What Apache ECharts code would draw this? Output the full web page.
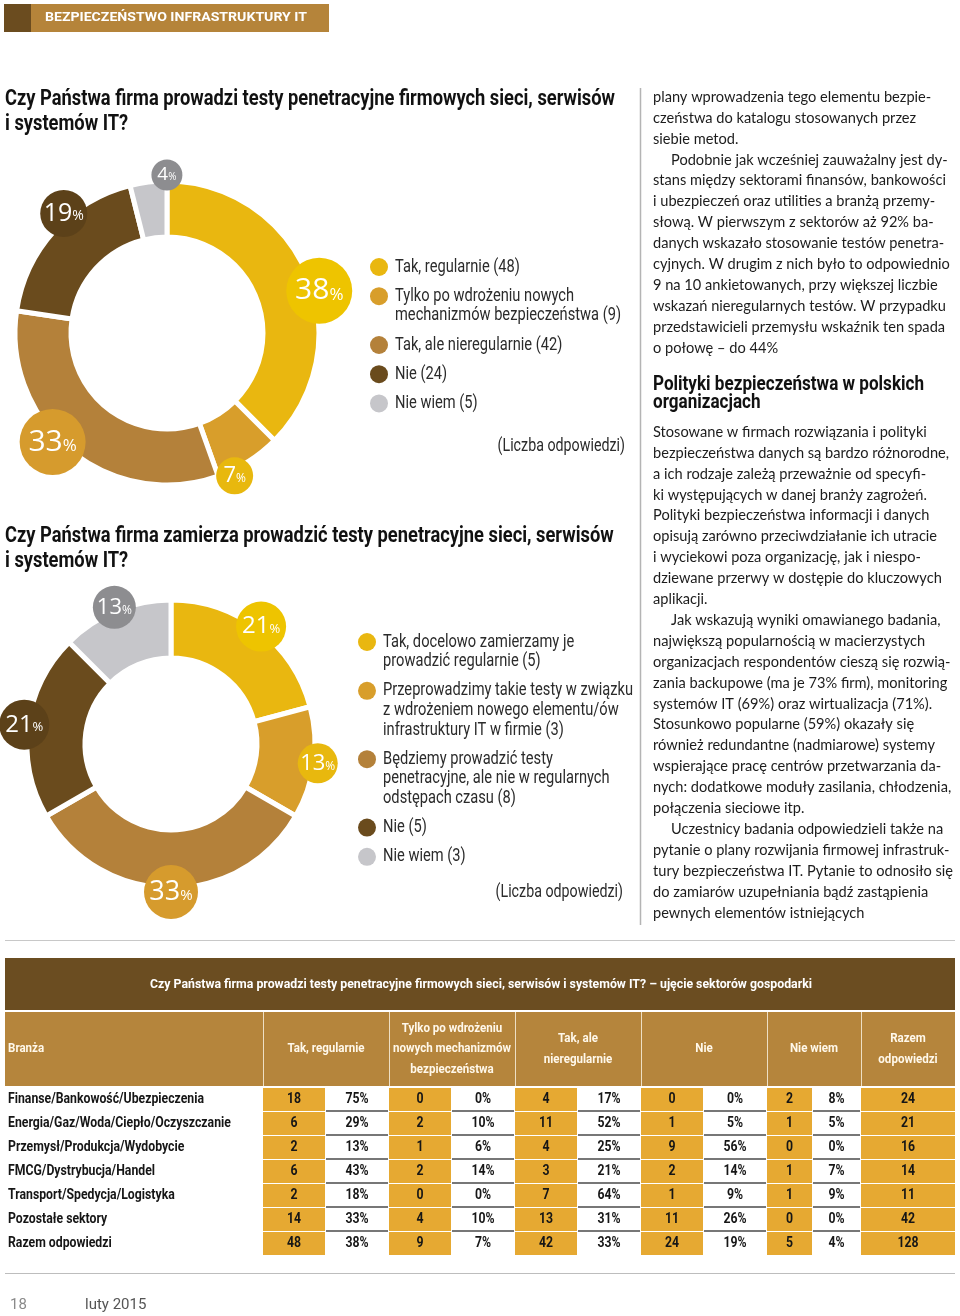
<!DOCTYPE html>
<html>
<head>
<meta charset="utf-8">
<script src="https://cdn.jsdelivr.net/npm/echarts@6/dist/echarts.min.js"></script>
<style>
  html, body { margin: 0; padding: 0; background: #fff; }
  #main { width: 960px; height: 1316px; }
</style>
</head>
<body>
<div id="main"></div>
<script>
// --- pytanie 1: czy firma prowadzi testy penetracyjne
const q1Names = ['Tak, regularnie', 'Tylko po wdrożeniu nowych\nmechanizmów bezpieczeństwa', 'Tak, ale nieregularnie', 'Nie', 'Nie wiem'];
const q1Counts = [48, 9, 42, 24, 5];
const q1Pct = [38, 7, 33, 19, 4];

// --- pytanie 2: czy firma zamierza prowadzić testy
const q2Names = ['Tak, docelowo zamierzamy je\nprowadzić regularnie', 'Przeprowadzimy takie testy w związku\nz wdrożeniem nowego elementu/ów\ninfrastruktury IT w firmie', 'Będziemy prowadzić testy\npenetracyjne, ale nie w regularnych\nodstępach czasu', 'Nie', 'Nie wiem'];
const q2Counts = [5, 3, 8, 5, 3];
const q2Pct = [21, 13, 33, 21, 13];

// --- tabela: ujęcie sektorów
const branches = ['Finanse/Bankowość/Ubezpieczenia', 'Energia/Gaz/Woda/Ciepło/Oczyszczanie', 'Przemysł/Produkcja/Wydobycie', 'FMCG/Dystrybucja/Handel', 'Transport/Spedycja/Logistyka', 'Pozostałe sektory', 'Razem odpowiedzi'];
const takRegularnie = [18, 6, 2, 6, 2, 14, 48];
const takRegularniePct = [75, 29, 13, 43, 18, 33, 38];
const tylkoPoWdrozeniu = [0, 2, 1, 2, 0, 4, 9];
const tylkoPoWdrozeniuPct = [0, 10, 6, 14, 0, 10, 7];
const takAleNieregularnie = [4, 11, 4, 3, 7, 13, 42];
const takAleNieregularniePct = [17, 52, 25, 21, 64, 31, 33];
const nie = [0, 1, 9, 2, 1, 11, 24];
const niePct = [0, 5, 56, 14, 9, 26, 19];
const nieWiem = [2, 1, 0, 1, 1, 0, 5];
const nieWiemPct = [8, 5, 0, 7, 9, 0, 4];
const razem = [24, 21, 16, 14, 11, 42, 128];
const tableHeaders = ['Branża', 'Tak, regularnie', 'Tylko po wdrożeniu\nnowych mechanizmów\nbezpieczeństwa', 'Tak, ale\nnieregularnie', 'Nie', 'Nie wiem', 'Razem\nodpowiedzi'];

// --- tekst kolumny
const column1 = [
  'plany wprowadzenia tego elementu bezpie-',
  'czeństwa do katalogu stosowanych przez',
  'siebie metod.',
  '\tPodobnie jak wcześniej zauważalny jest dy-',
  'stans między sektorami finansów, bankowości',
  'i ubezpieczeń oraz utilities a branżą przemy-',
  'słową. W pierwszym z sektorów aż 92% ba-',
  'danych wskazało stosowanie testów penetra-',
  'cyjnych. W drugim z nich było to odpowiednio',
  '9 na 10 ankietowanych, przy większej liczbie',
  'wskazań nieregularnych testów. W przypadku',
  'przedstawicieli przemysłu wskaźnik ten spada',
  'o połowę – do 44%'
];
const column2Heading = 'Polityki bezpieczeństwa w polskich\norganizacjach';
const column2 = [
  'Stosowane w firmach rozwiązania i polityki',
  'bezpieczeństwa danych są bardzo różnorodne,',
  'a ich rodzaje zależą przeważnie od specyfi-',
  'ki występujących w danej branży zagrożeń.',
  'Polityki bezpieczeństwa informacji i danych',
  'opisują zarówno przeciwdziałanie ich utracie',
  'i wyciekowi poza organizację, jak i niespo-',
  'dziewane przerwy w dostępie do kluczowych',
  'aplikacji.',
  '\tJak wskazują wyniki omawianego badania,',
  'największą popularnością w macierzystych',
  'organizacjach respondentów cieszą się rozwią-',
  'zania backupowe (ma je 73% firm), monitoring',
  'systemów IT (69%) oraz wirtualizacja (71%).',
  'Stosunkowo popularne (59%) okazały się',
  'również redundantne (nadmiarowe) systemy',
  'wspierające pracę centrów przetwarzania da-',
  'nych: dodatkowe moduły zasilania, chłodzenia,',
  'połączenia sieciowe itp.',
  '\tUczestnicy badania odpowiedzieli także na',
  'pytanie o plany rozwijania firmowej infrastruk-',
  'tury bezpieczeństwa IT. Pytanie to odnosiło się',
  'do zamiarów uzupełniania bądź zastąpienia',
  'pewnych elementów istniejących'
];
const title1 = 'Czy Państwa firma prowadzi testy penetracyjne firmowych sieci, serwisów\ni systemów IT?';
const title2 = 'Czy Państwa firma zamierza prowadzić testy penetracyjne sieci, serwisów\ni systemów IT?';
const tableTitle = 'Czy Państwa firma prowadzi testy penetracyjne firmowych sieci, serwisów i systemów IT? – ujęcie sektorów gospodarki';

// kolory
const sliceColors = ['#e9b710', '#d89e2b', '#b4813a', '#6a4b1d', '#c6c6ca'];
const bubbleColors = ['#eec400', '#e8b80e', '#d69b2d', '#5c4119', '#8d8d90'];
const THIN = '"Open Sans", "Noto Sans", sans-serif';

// brak fontów wąskich - zwężamy Roboto przez scaleX dopasowany do szerokości
const measureCtx = document.createElement('canvas').getContext('2d');
function measure (sample, weight, size, family) {
  measureCtx.font = weight + ' ' + size + 'px ' + family;
  return measureCtx.measureText(sample).width;
}
function fit (sample, weight, size, family, target) {
  return target / measure(sample, weight, size, family);
}
const titleScale = fit('Czy Państwa firma prowadzi testy penetracyjne firmowych sieci, serwisów', 'bold', 22, 'Roboto', 610);
const legendScale = Math.min(
  fit('mechanizmów bezpieczeństwa (9)', 'normal', 18, 'Roboto', 238),
  fit('Przeprowadzimy takie testy w związku', 'normal', 18, 'Roboto', 250)
);
const rowScale = fit('Finanse/Bankowość/Ubezpieczenia', 'bold', 15, 'Roboto', 196);
const headScale = fit('nowych mechanizmów', 'bold', 13.5, 'Roboto', 118);
const bandScale = fit(tableTitle, 'bold', 13.5, 'Roboto', 662);
const headingScale = fit('Polityki bezpieczeństwa w polskich', 'bold', 20, 'Roboto', 271);
const sectionScale = fit('BEZPIECZEŃSTWO INFRASTRUKTURY IT', 'bold', 13, 'Roboto', 262);
// kolumna tekstu: szerokość pierwszej linii, ale żadna linia nie wychodzi poza łam
const widestBody = Math.max.apply(null, column1.concat(column2).map(l =>
  measure(l.replace('\t', ''), 'normal', 15, 'Lato') + (l.charAt(0) === '\t' ? 18 : 0)));
const bodyScale = Math.min(fit('plany wprowadzenia tego elementu bezpie-', 'normal', 15, 'Lato', 289), 300 / widestBody);

const chart = echarts.init(document.getElementById('main'));

function donut (center, radius, names, counts) {
  return {
    type: 'pie',
    center: center,
    radius: radius,
    startAngle: 90,
    silent: true,
    label: { show: false },
    labelLine: { show: false },
    itemStyle: { borderColor: '#fff', borderWidth: 5 },
    data: counts.map((v, i) => ({ name: names[i], value: v, itemStyle: { color: sliceColors[i] } }))
  };
}

function bubbles (center, labelR, startAngle, counts, pcts, sizes, fonts) {
  return {
    type: 'pie',
    center: center,
    radius: [labelR - 8, labelR + 8],
    startAngle: startAngle,
    silent: true,
    z: 5,
    itemStyle: { color: 'transparent', borderWidth: 0 },
    labelLine: { show: false },
    data: counts.map((v, i) => ({
      value: v,
      label: {
        show: true,
        position: 'inside',
        overflow: 'none',
        formatter: '{n|' + pcts[i] + '}{p|%}',
        width: sizes[i],
        height: sizes[i],
        borderRadius: sizes[i] / 2,
        backgroundColor: bubbleColors[i],
        align: 'center',
        rich: {
          n: { fontSize: fonts[i], lineHeight: sizes[i], color: '#fff', fontFamily: THIN },
          p: { fontSize: Math.round(fonts[i] * 0.55), lineHeight: sizes[i], color: '#fff', fontFamily: THIN, padding: [Math.round(fonts[i] * 0.25), 0, 0, 0] }
        }
      }
    }))
  };
}

function legendGraphic (x, y0, names, counts) {
  const els = [];
  let y = y0;
  names.forEach((n, i) => {
    const lines = n.split('\n').length;
    els.push({ type: 'circle', shape: { cx: x, cy: y, r: 9 }, style: { fill: sliceColors[i] }, silent: true });
    els.push({
      type: 'text', x: x + 16, y: y - 9.8, scaleX: legendScale, silent: true,
      style: { text: n + ' (' + counts[i] + ')', fontSize: 18, fontFamily: 'Roboto', fill: '#2b2b2b', lineHeight: 19.6, verticalAlign: 'top' }
    });
    y += lines * 19.6 + 9.6;
  });
  return els;
}

function textLines (x, y0, step, lines) {
  return lines.map((l, i) => ({
    type: 'text', silent: true,
    x: l.charAt(0) === '\t' ? x + 18 : x,
    y: y0 + i * step,
    scaleX: bodyScale,
    style: { text: l.replace('\t', ''), fontSize: 15, fontFamily: 'Lato', fill: '#1c1c1c', verticalAlign: 'middle' }
  }));
}

// układ kolumn tabeli (piksele)
const groupX = [[263, 325, 389], [389, 451, 515], [515, 577, 641], [641, 703, 767], [767, 812, 861]];
const groupVals = [
  [takRegularnie, takRegularniePct],
  [tylkoPoWdrozeniu, tylkoPoWdrozeniuPct],
  [takAleNieregularnie, takAleNieregularniePct],
  [nie, niePct],
  [nieWiem, nieWiemPct]
];
const CELL = '#e6a932';
const tableFont = { fontSize: 15, fontFamily: 'Roboto', fontWeight: 'bold', fill: '#161616' };

function cellText (x, y, text, align) {
  return { type: 'text', x: x, y: y, scaleX: rowScale, style: Object.assign({ text: text, align: align, verticalAlign: 'middle' }, tableFont) };
}

function renderRow (params, api) {
  const i = params.dataIndex;
  const yc = api.coord([0, i])[1];
  const h = api.size([0, 1])[1];
  const top = yc - h / 2;
  const last = i === branches.length - 1;
  const children = [cellText(api.coord([8, i])[0], yc, branches[i], 'left')];
  groupX.forEach((g, k) => {
    const x0 = api.coord([g[0], i])[0];
    const x1 = api.coord([g[1], i])[0];
    const x2 = api.coord([g[2], i])[0];
    children.push({ type: 'rect', shape: { x: x0, y: top + 1, width: x1 - x0, height: h - 1 }, style: { fill: CELL } });
    children.push(cellText((x0 + x1) / 2, yc, String(groupVals[k][0][i]), 'center'));
    children.push(cellText((x1 + x2) / 2, yc, groupVals[k][1][i] + '%', 'center'));
    if (!last) {
      children.push({ type: 'line', shape: { x1: x1 + 1, y1: top + h, x2: x2 - 1, y2: top + h }, style: { stroke: '#4a4a4a', lineWidth: 1.5 } });
    }
  });
  const r0 = api.coord([861, i])[0];
  const r1 = api.coord([955, i])[0];
  children.push({ type: 'rect', shape: { x: r0, y: top + 1, width: r1 - r0, height: h - 1 }, style: { fill: CELL } });
  children.push(cellText((r0 + r1) / 2, yc, String(razem[i]), 'center'));
  return { type: 'group', children: children };
}

// nagłówek tabeli
const headerCols = [[5, 263], [263, 389], [389, 515], [515, 641], [641, 767], [767, 861], [861, 955]];
const tableHeaderEls = [
  { type: 'rect', shape: { x: 5, y: 958, width: 950, height: 52 }, style: { fill: '#6b4d21' } },
  { type: 'text', x: 481, y: 985, scaleX: bandScale, style: { text: tableTitle, fontSize: 13.5, fontWeight: 'bold', fontFamily: 'Roboto', fill: '#fff', align: 'center', verticalAlign: 'middle' } },
  { type: 'rect', shape: { x: 5, y: 1012, width: 950, height: 74 }, style: { fill: '#b5853c' } }
];
headerCols.forEach((c, i) => {
  if (i > 0) {
    tableHeaderEls.push({ type: 'line', shape: { x1: c[0] + 0.5, y1: 1012, x2: c[0] + 0.5, y2: 1086 }, style: { stroke: '#eedfc4', lineWidth: 1 } });
  }
  tableHeaderEls.push({
    type: 'text', x: i === 0 ? 8 : (c[0] + c[1]) / 2, y: 1049, scaleX: headScale,
    style: { text: tableHeaders[i], fontSize: 13.5, fontWeight: 'bold', fontFamily: 'Roboto', fill: '#fff8ea', lineHeight: 20.5, align: i === 0 ? 'left' : 'center', verticalAlign: 'middle' }
  });
});

const graphics = [
  // belka działu
  { type: 'rect', shape: { x: 4, y: 4, width: 325, height: 28 }, style: { fill: '#b5843a' } },
  { type: 'rect', shape: { x: 4, y: 4, width: 27, height: 28 }, style: { fill: '#6b4c1f' } },
  { type: 'text', x: 45, y: 18, scaleX: sectionScale, style: { text: 'BEZPIECZEŃSTWO INFRASTRUKTURY IT', fontSize: 13, fontWeight: 'bold', fontFamily: 'Roboto', fill: '#fff', verticalAlign: 'middle' } },
  // tytuły wykresów
  { type: 'text', x: 5, y: 87, scaleX: titleScale, style: { text: title1, fontSize: 22, fontWeight: 'bold', fontFamily: 'Roboto', fill: '#111', lineHeight: 25, verticalAlign: 'top' } },
  { type: 'text', x: 5, y: 524, scaleX: titleScale, style: { text: title2, fontSize: 22, fontWeight: 'bold', fontFamily: 'Roboto', fill: '#111', lineHeight: 25, verticalAlign: 'top' } },
  { type: 'text', x: 625, y: 447, scaleX: legendScale, style: { text: '(Liczba odpowiedzi)', fontSize: 17.5, fontFamily: 'Roboto', fill: '#2b2b2b', align: 'right', verticalAlign: 'middle' } },
  { type: 'text', x: 623, y: 893, scaleX: legendScale, style: { text: '(Liczba odpowiedzi)', fontSize: 17.5, fontFamily: 'Roboto', fill: '#2b2b2b', align: 'right', verticalAlign: 'middle' } },
  // linie
  { type: 'line', shape: { x1: 640.5, y1: 88, x2: 640.5, y2: 925 }, style: { stroke: '#b4b4b4', lineWidth: 1.5 } },
  { type: 'line', shape: { x1: 5, y1: 940.5, x2: 955, y2: 940.5 }, style: { stroke: '#c8c8c8', lineWidth: 1 } },
  { type: 'line', shape: { x1: 5, y1: 1273.5, x2: 955, y2: 1273.5 }, style: { stroke: '#bdbdbd', lineWidth: 1 } },
  // stopka
  { type: 'text', x: 10, y: 1305, style: { text: '18', fontSize: 15, fontFamily: 'Roboto, sans-serif', fill: '#8a8a8a', verticalAlign: 'middle' } },
  { type: 'text', x: 85, y: 1305, style: { text: 'luty 2015', fontSize: 15, fontFamily: 'Roboto, sans-serif', fill: '#555', verticalAlign: 'middle' } },
  // nagłówek w kolumnie
  { type: 'text', x: 653, y: 376, scaleX: headingScale, style: { text: column2Heading, fontSize: 20, fontWeight: 'bold', fontFamily: 'Roboto', fill: '#111', lineHeight: 18, verticalAlign: 'top' } }
]
  .concat(legendGraphic(379, 267, q1Names, q1Counts))
  .concat(legendGraphic(367, 642, q2Names, q2Counts))
  .concat(textLines(653, 97, 20.9, column1))
  .concat(textLines(653, 432, 20.9, column2))
  .concat(tableHeaderEls);

const option = {
  backgroundColor: '#fff',
  animation: false,
  grid: { left: 0, right: 0, top: 1087, height: 168 },
  xAxis: { type: 'value', min: 0, max: 960, show: false },
  yAxis: { type: 'category', data: branches, inverse: true, show: false },
  graphic: graphics,
  series: [
    donut([167, 333], [96, 152], q1Names, q1Counts),
    bubbles([167, 333], 155, 83, q1Counts, q1Pct, [66, 37, 66, 47, 31], [30, 22, 30, 25, 19]),
    donut([171, 744], [86, 144], q2Names, q2Counts),
    bubbles([171, 744], 145, 90, q2Counts, q2Pct, [50, 40, 54, 50, 43], [24, 22, 27, 24, 22]),
    {
      type: 'custom',
      coordinateSystem: 'cartesian2d',
      silent: true,
      data: branches.map((b, i) => [0, i]),
      renderItem: renderRow
    }
  ]
};

chart.setOption(option);
</script>
</body>
</html>
